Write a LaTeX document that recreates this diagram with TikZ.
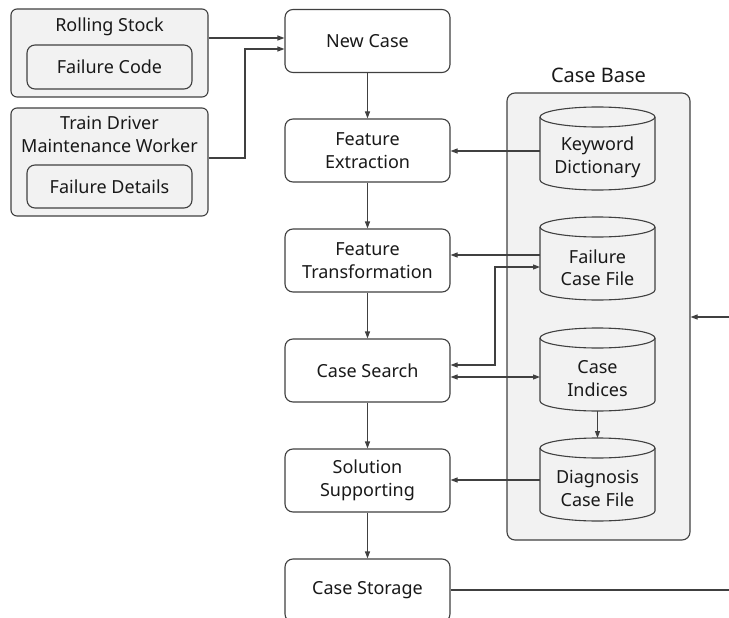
\documentclass[tikz,border=0pt]{standalone}
\usepackage{fontspec}
\setmainfont{Noto Sans}
\usetikzlibrary{arrows.meta,calc}
\definecolor{ln}{HTML}{404040}
\definecolor{grp}{HTML}{F2F2F2}
\begin{document}
\begin{tikzpicture}[x=1pt,y=-1pt,
  font=\fontsize{18}{22.5}\selectfont,
  every node/.style={text=black!90},
  proc/.style={draw=ln,line width=1.1pt,rounded corners=8pt,fill=white,minimum width=165pt,minimum height=63pt,align=center,inner sep=0pt},
  group/.style={draw=ln,line width=1.1pt,rounded corners=6pt,fill=grp,inner sep=0pt},
  inner/.style={draw=ln,line width=1.1pt,rounded corners=8pt,fill=grp,minimum width=165pt,minimum height=44pt,inner sep=0pt},
  cylbox/.style={minimum width=115pt,minimum height=83pt,align=center,inner sep=0pt},
  conn/.style={draw=ln,line width=1.1pt,-{Triangle[length=7pt,width=5pt]}},
  bconn/.style={draw=ln,line width=1.1pt,{Triangle[length=7pt,width=5pt]}-{Triangle[length=7pt,width=5pt]}},
  plain/.style={draw=ln,line width=1.1pt}]
\useasboundingbox (0,0) rectangle (729,618);

% left groups
\node[group,minimum width=197pt,minimum height=88pt] (rs) at (109.5,53) {};
\node[anchor=north] (rst) at (109.5,14) {Rolling Stock};
\node[inner] (fc) at (109.5,67) {Failure Code};
\node[group,minimum width=197pt,minimum height=108pt] (td) at (109.5,162) {};
\node[anchor=north,align=center] (tdt) at (109.5,113) {Train Driver\\Maintenance Worker};
\node[inner,minimum height=43pt] (fd) at (109.5,186.5) {Failure Details};

% process column
\node[proc] (nc) at (367.5,41) {New Case};
\node[proc] (fe) at (367.5,150.5) {Feature\\Extraction};
\node[proc] (ft) at (367.5,260.5) {Feature\\Transformation};
\node[proc] (cs) at (367.5,370.5) {Case Search};
\node[proc] (ss) at (367.5,480.5) {Solution\\Supporting};
\node[proc] (cst) at (367.5,590.5) {Case Storage};

% case base
\node[group,rounded corners=8pt,minimum width=183pt,minimum height=447pt] (cb) at (598.5,316.5) {};
\node[font=\fontsize{20}{24}\selectfont] (cbt) at (598.5,75) {Case Base};

\newcommand{\dbcyl}[4]{%
  \begin{scope}[shift={(#2,#3)}]
    \filldraw[draw=ln,fill=grp,line width=1.1pt]
      (-57.5,-31.5) -- (-57.5,31.5) arc[start angle=180,end angle=0,x radius=57.5,y radius=10]
      -- (57.5,-31.5) arc[start angle=0,end angle=-180,x radius=57.5,y radius=10] -- cycle;
    \draw[draw=ln,line width=1.1pt] (-57.5,-31.5) arc[start angle=180,end angle=0,x radius=57.5,y radius=10];
  \end{scope}
  \node[cylbox] (#1) at (#2,#3+9) {#4};}
\dbcyl{kd}{597.5}{148.5}{Keyword\\Dictionary}
\dbcyl{fcf}{597.5}{258.5}{Failure\\Case File}
\dbcyl{ci}{597.5}{369.5}{Case\\Indices}
\dbcyl{dcf}{597.5}{479.5}{Diagnosis\\Case File}

% connectors
\draw[conn] (rs.east |- 0,38) -- (nc.west |- 0,38);
\draw[conn] (td.east |- 0,158) -- (245,158) -- (245,49) -- (nc.west |- 0,49);
\draw[conn] (nc) -- (fe);
\draw[conn] (fe) -- (ft);
\draw[conn] (ft) -- (cs);
\draw[conn] (cs) -- (ss);
\draw[conn] (ss) -- (cst);
\draw[conn] (540,151) -- (fe.east |- 0,151);
\draw[conn] (540,255) -- (ft.east |- 0,255);
\draw[bconn] (cs.east |- 0,365) -- (495,365) -- (495,267) -- (540,267);
\draw[bconn] (cs.east |- 0,377) -- (540,377);
\draw[conn] (597.5,411) -- (597.5,438);
\draw[conn] (540,480) -- (ss.east |- 0,480);
\coordinate (e1) at (729,590);
\coordinate (e2) at (729,317);
\draw[plain] (cst.east |- 0,590) -- (e1);
\draw[conn] (e2) -- (cb.east |- 0,317);
\end{tikzpicture}
\end{document}
